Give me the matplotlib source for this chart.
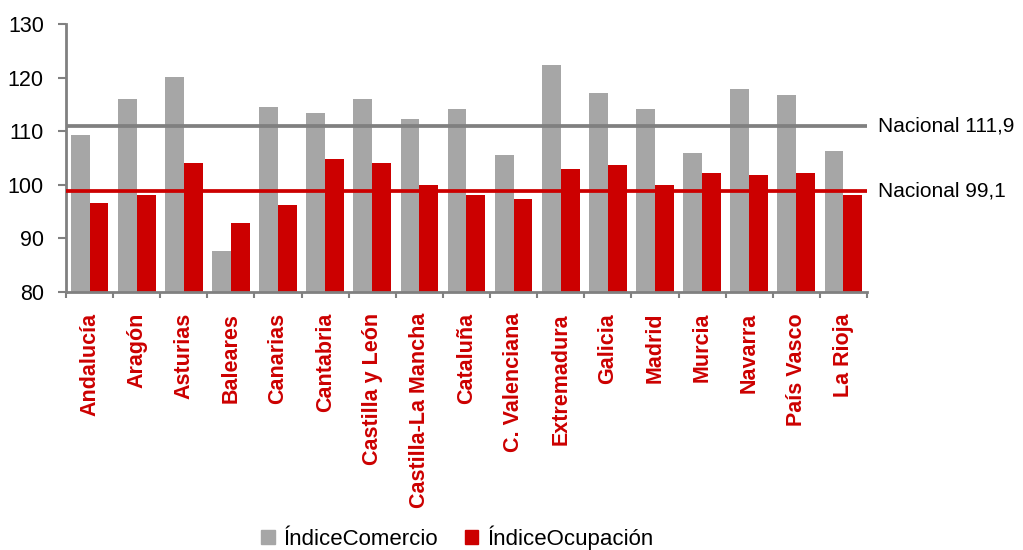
import numpy as np
import matplotlib.pyplot as plt
from matplotlib.patches import Patch

plt.rcParams['font.family'] = ['Liberation Sans', 'DejaVu Sans']

regiones = ['Andalucía', 'Aragón', 'Asturias', 'Baleares', 'Canarias', 'Cantabria',
            'Castilla y León', 'Castilla-La Mancha', 'Cataluña', 'C. Valenciana',
            'Extremadura', 'Galicia', 'Madrid', 'Murcia', 'Navarra', 'País Vasco',
            'La Rioja']
comercio = [109.3, 116.0, 120.1, 87.6, 114.5, 113.4, 116.0, 112.3, 114.1, 105.6,
            122.4, 117.1, 114.1, 105.9, 117.9, 116.8, 106.3]
ocupacion = [96.6, 98.1, 104.1, 92.9, 96.2, 104.8, 104.1, 100.0, 98.1, 97.4,
             102.9, 103.7, 100.0, 102.2, 101.8, 102.2, 98.1]
nacional_comercio = 111.0
nacional_ocupacion = 98.9
etiquetas_nacional = ['Nacional 111,9', 'Nacional 99,1']

gris = '#A6A6A6'
rojo = '#CC0000'
eje = '#808080'

fig = plt.figure(figsize=(10.23, 5.5), dpi=100)
ax = fig.add_axes([0.0645, 0.469, 0.783, 0.487])

x = np.arange(len(regiones))
w = 0.4
ax.bar(x - w / 2, comercio, w, color=gris, zorder=2)
ax.bar(x + w / 2, ocupacion, w, color=rojo, zorder=2)

ax.axhline(nacional_comercio, color=eje, lw=2.7, zorder=3)
ax.axhline(nacional_ocupacion, color=rojo, lw=2.7, zorder=3)

ax.set_xlim(-0.5, len(regiones) - 0.5)
ax.set_ylim(80, 130)
ax.set_yticks(range(80, 131, 10))

# ticks on the boundaries, labels centred
ax.set_xticks(np.arange(-0.5, len(regiones), 1.0))
ax.set_xticklabels([])
ax.set_xticks(x, minor=True)
ax.set_xticklabels(regiones, minor=True, rotation=90, color=rojo,
                   fontweight='bold', fontsize=15.5)
ax.tick_params(axis='x', which='minor', length=0, pad=15)
ax.tick_params(axis='x', which='major', length=4, width=1.5, color=eje)
ax.tick_params(axis='y', length=6, width=1.5, color=eje, labelsize=15.5, pad=10)

for s in ['top', 'right']:
    ax.spines[s].set_visible(False)
for s in ['left', 'bottom']:
    ax.spines[s].set_color(eje)
    ax.spines[s].set_linewidth(2)

ax.text(1.014, nacional_comercio, etiquetas_nacional[0], transform=ax.get_yaxis_transform(),
        va='center', ha='left', fontsize=15)
ax.text(1.014, nacional_ocupacion, etiquetas_nacional[1], transform=ax.get_yaxis_transform(),
        va='center', ha='left', fontsize=15)

handles = [Patch(color=gris), Patch(color=rojo)]
fig.legend(handles, ['ÍndiceComercio', 'ÍndiceOcupación'], loc='center',
           bbox_to_anchor=(0.447, 0.022), ncol=2, frameon=False, fontsize=16,
           handlelength=0.6, handleheight=0.6, handletextpad=0.4, columnspacing=1.2,
           borderpad=0)

fig.savefig('out.png', dpi=100)
